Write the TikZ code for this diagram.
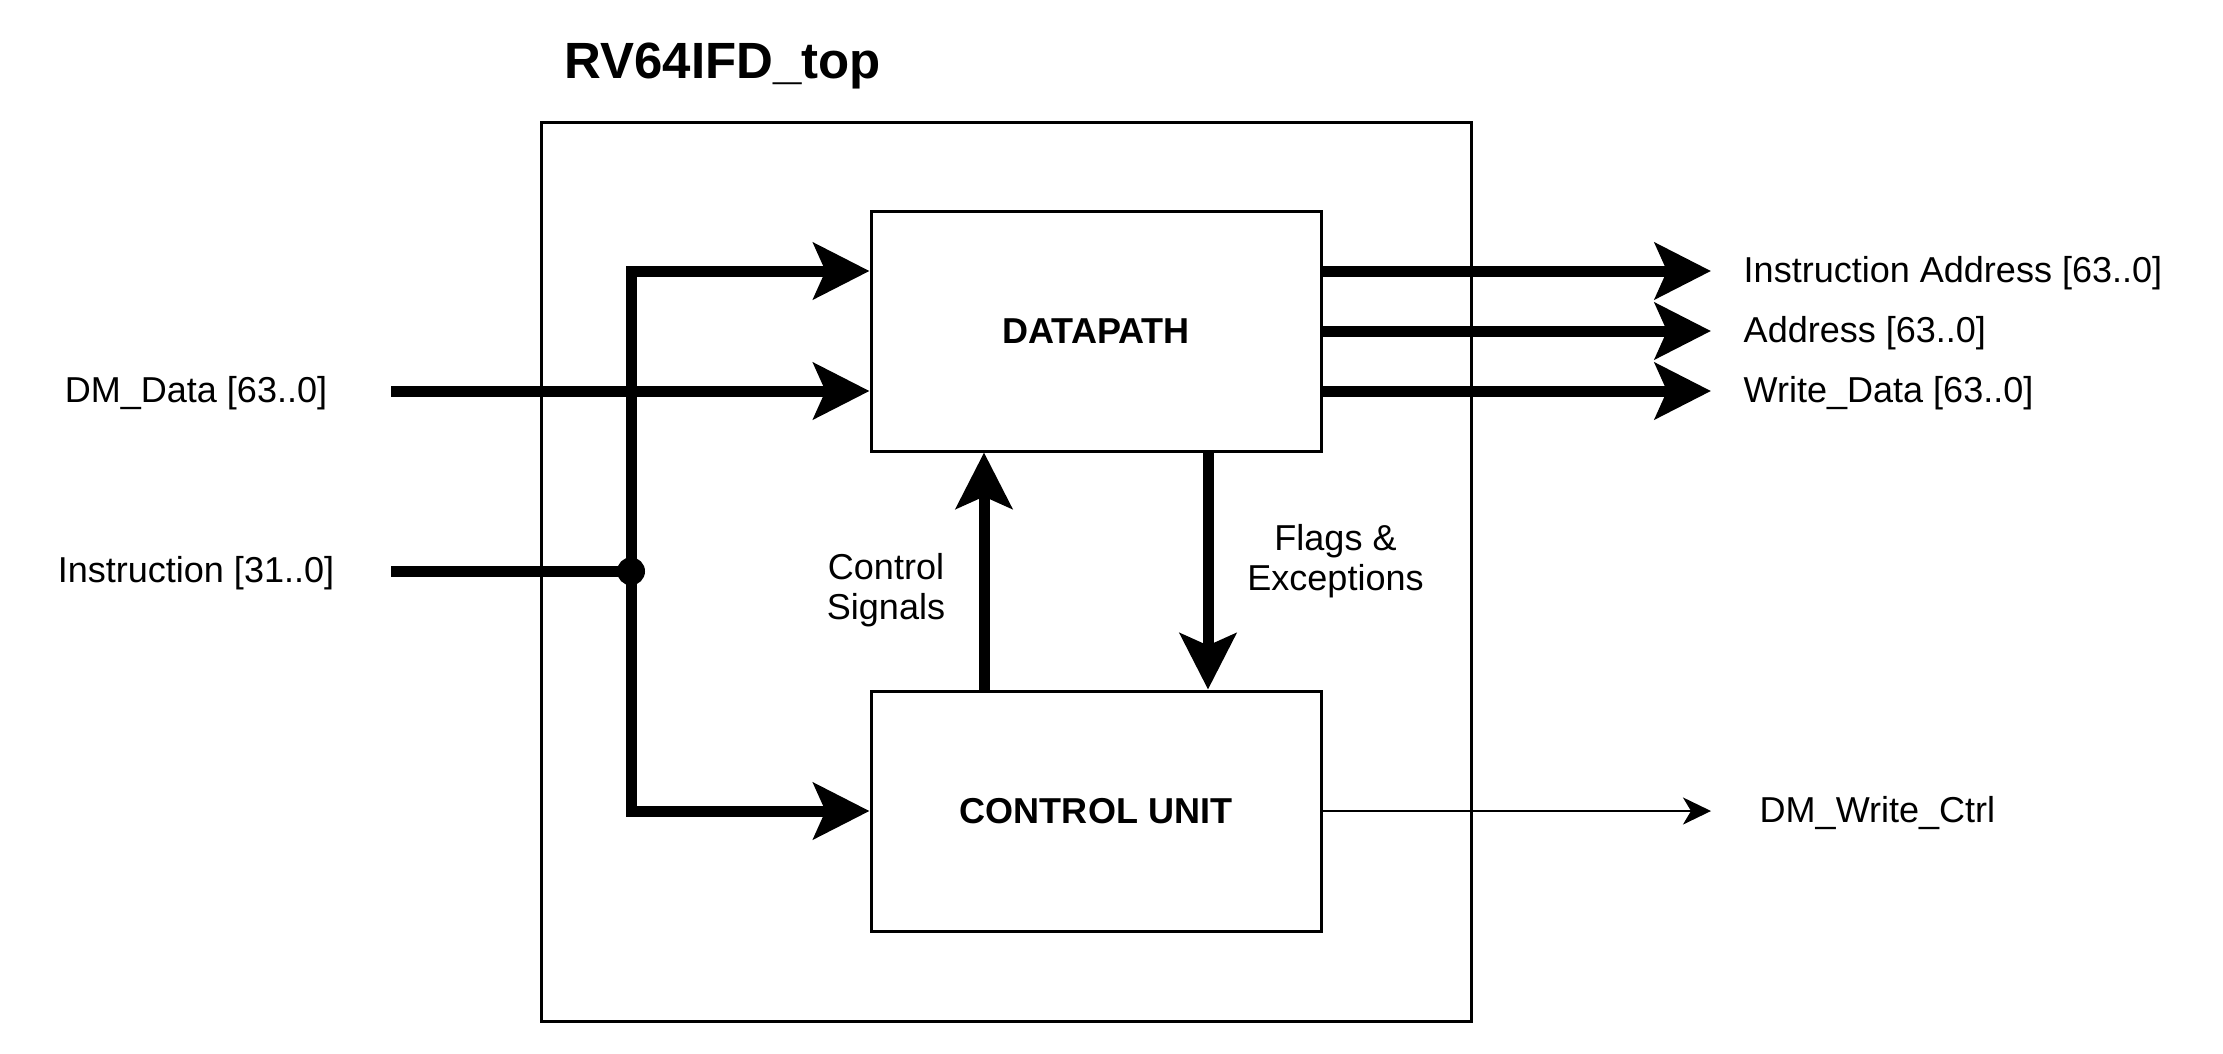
\documentclass[tikz,border=0pt]{standalone}
\usepackage{fontspec}
\setmainfont{Liberation Sans}
\usetikzlibrary{arrows.meta,positioning}

\begin{document}
\begin{tikzpicture}[x=1cm, y=-1cm,
	font=\fontsize{10.25}{11.4}\selectfont,
	frame/.style={draw, line width=0.03cm},
	block/.style={frame, minimum width=4.5cm, minimum height=2.4cm, font=\fontsize{10.25}{12}\selectfont\bfseries},
	bus/.style={line width=0.11cm, -{Stealth[length=0.56cm, width=0.56cm, inset=0.12cm]}},
	wire/.style={line width=0.025cm, -{Stealth[length=0.28cm, width=0.27cm, inset=0.08cm]}},
	lbl/.style={text height=0.31cm, text depth=0.08cm},
	outlbl/.style={lbl, anchor=west, inner xsep=0.32cm, inner ysep=0pt}]
	\useasboundingbox (0,0) rectangle (22.23,10.53);

	\node[frame, minimum width=9.3cm, minimum height=8.99cm] (core) at (10.065,5.715) {};
	\node[anchor=base west, inner sep=0pt, font=\fontsize{14.5}{17}\selectfont\bfseries] (title) at (5.64,0.783) {RV64IFD\_top};

	\node[block] (dp) at (10.96,3.31) {DATAPATH};
	\node[block, below=2.37cm of dp] (cu) {CONTROL UNIT};

	\node[lbl] (dmlbl) at (1.96,3.91) {DM\_Data [63..0]};
	\node[lbl] (inslbl) at (1.96,5.713) {Instruction [31..0]};
	\coordinate (dmin) at (3.91,3.91);
	\coordinate (insin) at (3.91,5.713);
	\coordinate (split) at (6.31,5.713);

	\node[outlbl] (ia) at (17.11,2.71) {Instruction Address [63..0]};
	\node[outlbl] (ad) at (17.11,3.31) {Address [63..0]};
	\node[outlbl] (wd) at (17.11,3.91) {Write\_Data [63..0]};
	\node[outlbl, inner xsep=0.48cm] (wc) at (17.11,8.11) {DM\_Write\_Ctrl};

	\node[align=center] (ctl) at (8.86,5.90) {Control\\Signals};
	\node[align=center] (flg) at (13.355,5.61) {Flags \&\\Exceptions};

	\draw[bus] (dmin) -- (dmin -| dp.west);
	\draw[bus, -] (insin) -- (split);
	\draw[bus] (split) |- ([yshift=0.6cm]dp.west);
	\draw[bus] (split) |- (cu.west);
	\fill (split) circle[radius=0.14];

	\draw[bus] ([xshift=-1.12cm]cu.north) -- ([xshift=-1.12cm]dp.south);
	\draw[bus] ([xshift=1.12cm]dp.south) -- ([xshift=1.12cm]cu.north);

	\foreach \nm in {ia,ad,wd}
		\draw[bus] (dp.east |- \nm.west) -- (\nm.west);
	\draw[wire] (cu.east) -- (cu.east -| wc.west);
\end{tikzpicture}
\end{document}
